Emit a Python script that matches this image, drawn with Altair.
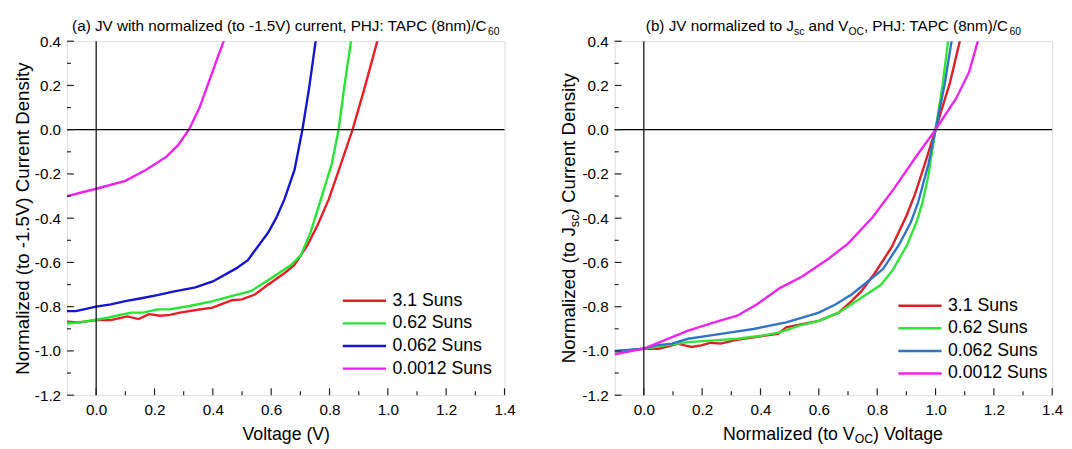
import altair as alt
import pandas as pd

FONT = "Liberation Sans"
PW, PH = 445, 360
XDOM = [-0.1, 1.4]
YDOM = [-1.2, 0.4]

SERIES = ["3.1 Suns", "0.62 Suns", "0.062 Suns", "0.0012 Suns"]
COLORS_A = ["#ec1c24", "#22e632", "#1414d2", "#f01ef0"]
COLORS_B = ["#dd1f26", "#2ee635", "#2f74c8", "#f022f0"]

X_MAJOR = [0.0, 0.2, 0.4, 0.6, 0.8, 1.0, 1.2, 1.4]
X_MINOR = [0.1, 0.3, 0.5, 0.7, 0.9, 1.1, 1.3]
Y_MAJOR = [-1.2, -1.0, -0.8, -0.6, -0.4, -0.2, 0.0, 0.2, 0.4]
Y_MINOR = [-1.1, -0.9, -0.7, -0.5, -0.3, -0.1, 0.1, 0.3]

# ---- panel (a): JV normalized to -1.5 V current ----
A_RED_X = [-0.10, -0.06, 0.0, 0.05, 0.107, 0.146, 0.18, 0.219, 0.253, 0.287, 0.342, 0.399,
           0.432, 0.466, 0.50, 0.544, 0.589, 0.645, 0.679, 0.724, 0.758, 0.797, 0.836,
           0.879, 0.92, 0.963, 0.968]
A_RED_Y = [-0.868, -0.871, -0.861, -0.861, -0.844, -0.856, -0.834, -0.841, -0.837, -0.827,
           -0.815, -0.804, -0.787, -0.771, -0.767, -0.745, -0.701, -0.649, -0.612, -0.523,
           -0.434, -0.316, -0.167, 0.0, 0.188, 0.396, 0.42]
A_GREEN_X = [-0.10, -0.05, 0.0, 0.04, 0.07, 0.12, 0.16, 0.21, 0.25, 0.32, 0.40, 0.47, 0.53,
             0.60, 0.668, 0.702, 0.735, 0.77, 0.808, 0.831, 0.85, 0.873, 0.876]
A_GREEN_Y = [-0.876, -0.87, -0.859, -0.85, -0.841, -0.827, -0.827, -0.812, -0.812, -0.797,
             -0.775, -0.75, -0.73, -0.671, -0.612, -0.567, -0.464, -0.316, -0.153, 0.0,
             0.188, 0.396, 0.42]
A_BLUE_X = [-0.10, -0.07, 0.0, 0.05, 0.10, 0.15, 0.21, 0.26, 0.34, 0.40, 0.48, 0.52, 0.59,
            0.617, 0.645, 0.68, 0.707, 0.73, 0.752, 0.755]
A_BLUE_Y = [-0.82, -0.82, -0.80, -0.79, -0.775, -0.763, -0.748, -0.733, -0.713, -0.686,
            -0.627, -0.59, -0.464, -0.40, -0.316, -0.182, 0.0, 0.188, 0.396, 0.42]
A_MAG_X = [-0.10, 0.0, 0.10, 0.17, 0.24, 0.28, 0.318, 0.354, 0.387, 0.415, 0.436, 0.44]
A_MAG_Y = [-0.30, -0.267, -0.231, -0.182, -0.123, -0.071, 0.0, 0.099, 0.218, 0.321, 0.396, 0.42]

# ---- panel (b): normalized to Jsc and Voc ----
B_RED_X = [-0.10, 0.0, 0.051, 0.084, 0.118, 0.14, 0.163, 0.197, 0.23, 0.264, 0.309, 0.342,
           0.421, 0.46, 0.488, 0.543, 0.60, 0.668, 0.712, 0.746, 0.791, 0.85, 0.90, 0.93,
           0.962, 1.0, 1.05, 1.085, 1.088]
B_RED_Y = [-1.004, -0.99, -0.99, -0.979, -0.967, -0.975, -0.982, -0.975, -0.963, -0.967,
           -0.952, -0.945, -0.93, -0.923, -0.893, -0.879, -0.864, -0.827, -0.775, -0.73,
           -0.65, -0.53, -0.39, -0.29, -0.16, 0.0, 0.215, 0.41, 0.42]
B_GREEN_X = [-0.10, 0.0, 0.073, 0.152, 0.241, 0.32, 0.41, 0.466, 0.533, 0.60, 0.668, 0.746,
             0.813, 0.853, 0.903, 0.937, 0.955, 0.975, 1.0, 1.024, 1.043, 1.045]
B_GREEN_Y = [-1.004, -0.99, -0.975, -0.96, -0.952, -0.945, -0.93, -0.916, -0.886, -0.864,
             -0.827, -0.76, -0.701, -0.635, -0.52, -0.41, -0.33, -0.21, 0.0, 0.20, 0.40, 0.42]
B_BLUE_X = [-0.10, 0.0, 0.039, 0.096, 0.152, 0.23, 0.298, 0.376, 0.432, 0.488, 0.543, 0.60,
            0.657, 0.712, 0.768, 0.82, 0.875, 0.915, 0.94, 0.975, 1.0, 1.032, 1.055, 1.057]
B_BLUE_Y = [-1.0, -0.99, -0.975, -0.967, -0.945, -0.93, -0.916, -0.901, -0.886, -0.871,
            -0.849, -0.827, -0.79, -0.745, -0.686, -0.63, -0.52, -0.42, -0.33, -0.16, 0.0,
            0.21, 0.40, 0.42]
B_MAG_X = [-0.10, 0.0, 0.152, 0.241, 0.32, 0.387, 0.466, 0.543, 0.634, 0.70, 0.785, 0.86,
           0.93, 1.0, 1.07, 1.115, 1.145, 1.148]
B_MAG_Y = [-1.015, -0.99, -0.908, -0.871, -0.841, -0.79, -0.716, -0.664, -0.582, -0.515,
           -0.395, -0.262, -0.128, 0.0, 0.14, 0.26, 0.40, 0.42]

ARIAL = {" ": 278, "(": 333, ")": 333, "-": 333, ".": 278, ",": 278, ":": 278, "/": 278,
         "a": 556, "b": 556, "c": 500, "d": 556, "e": 556, "f": 278, "g": 556, "h": 556,
         "i": 222, "j": 222, "k": 500, "l": 222, "m": 833, "n": 556, "o": 556, "p": 556,
         "q": 556, "r": 333, "s": 500, "t": 278, "u": 556, "v": 500, "w": 722, "x": 500,
         "y": 500, "z": 500, "A": 667, "B": 667, "C": 722, "D": 722, "E": 667, "F": 611,
         "G": 778, "H": 722, "I": 278, "J": 500, "K": 667, "L": 556, "M": 833, "N": 722,
         "O": 778, "P": 667, "Q": 778, "R": 722, "S": 667, "T": 611, "U": 722, "V": 667,
         "W": 944, "X": 667, "Y": 667, "Z": 611}


def tw(s, size):
    return sum(ARIAL.get(c, 556) for c in s) * size / 1000.0


def rich_text(segments, x, y, size, sub_size, sub_dy, angle=None):
    """Lay out text pieces (some as subscripts) one after the other along the text line."""
    total = sum(tw(t, sub_size if sub else size) for t, sub in segments)
    off = -total / 2.0
    layers = []
    for t, sub in segments:
        fs = sub_size if sub else size
        body = t.strip(" ")
        lead = tw(t[: len(t) - len(t.lstrip(" "))], fs)
        kw = dict(text=body, align="left", baseline="alphabetic", font=FONT, fontSize=fs,
                  dx=off + lead, dy=(sub_dy if sub else 0), color="black")
        if angle is not None:
            kw["angle"] = angle
        layers.append(alt.Chart(alt.Data(values=[{}])).mark_text(**kw).encode(
            x=alt.value(x), y=alt.value(y)))
        off += tw(t, fs)
    return layers


def frame_df(series_xy):
    rows = []
    for name, xs, ys in series_xy:
        for i, (a, b) in enumerate(zip(xs, ys)):
            rows.append({"series": name, "x": a, "y": b, "i": i})
    return pd.DataFrame(rows)


LABEL_EXPR = "replace(datum.label, '\u2212', '-')"


def panel(df, colors, lx, ly, x_title, y_title, extra):
    xs = alt.Scale(domain=XDOM, nice=False, zero=False)
    ys = alt.Scale(domain=YDOM, nice=False, zero=False)
    xkw = dict(values=X_MAJOR, format=".1f", ticks=False, domain=False, grid=False,
               labelFontSize=15.5, labelFont=FONT, labelColor="black", labelPadding=8,
               labelFlush=False, labelOverlap=False, titleFontSize=18, titleFont=FONT,
               titleFontWeight="normal", titleColor="black", titlePadding=8)
    ykw = dict(values=Y_MAJOR, format=".1f", labelExpr=LABEL_EXPR, ticks=False,
               domain=False, grid=False, labelFontSize=15.5, labelFont=FONT,
               labelColor="black", labelPadding=6.5, labelFlush=False, labelOverlap=False,
               titleFontSize=19, titleFont=FONT, titleFontWeight="normal",
               titleColor="black", titlePadding=2)
    xaxis = alt.Axis(title=x_title, **xkw)
    yaxis = alt.Axis(title=y_title, **ykw)
    lines = alt.Chart(df).mark_line(strokeWidth=2.4, clip=True).encode(
        x=alt.X("x:Q", scale=xs, axis=xaxis),
        y=alt.Y("y:Q", scale=ys, axis=yaxis),
        color=alt.Color("series:N", scale=alt.Scale(domain=SERIES, range=colors),
                        legend=alt.Legend(title=None, orient="none", legendX=lx, legendY=ly,
                                          symbolType="stroke", symbolSize=1936,
                                          symbolStrokeWidth=2.5, labelFontSize=18,
                                          labelFont=FONT, labelColor="black", clipHeight=18,
                                          rowPadding=5, labelOffset=5, padding=0,
                                          labelLimit=300)),
        order="i:Q")
    zero = pd.DataFrame({"x": [0.0], "y": [0.0]})
    vline = alt.Chart(zero).mark_rule(color="black", strokeWidth=1.2).encode(
        x=alt.X("x:Q", scale=xs, axis=xaxis))
    hline = alt.Chart(zero).mark_rule(color="black", strokeWidth=1.2).encode(
        y=alt.Y("y:Q", scale=ys, axis=yaxis))
    tick_color = "#222222"
    xmaj = alt.Chart(pd.DataFrame({"x": X_MAJOR})).mark_rule(color=tick_color, strokeWidth=1.2).encode(
        x=alt.X("x:Q", scale=xs, axis=xaxis), y=alt.value(PH), y2=alt.value(PH - 7))
    xmin = alt.Chart(pd.DataFrame({"x": X_MINOR})).mark_rule(color=tick_color, strokeWidth=1.2).encode(
        x=alt.X("x:Q", scale=xs, axis=xaxis), y=alt.value(PH), y2=alt.value(PH - 4))
    ymaj = alt.Chart(pd.DataFrame({"y": Y_MAJOR})).mark_rule(color=tick_color, strokeWidth=1.2).encode(
        y=alt.Y("y:Q", scale=ys, axis=yaxis), x=alt.value(0), x2=alt.value(7))
    ymin = alt.Chart(pd.DataFrame({"y": Y_MINOR})).mark_rule(color=tick_color, strokeWidth=1.2).encode(
        y=alt.Y("y:Q", scale=ys, axis=yaxis), x=alt.value(0), x2=alt.value(4))
    return alt.layer(lines, vline, hline, xmaj, xmin, ymaj, ymin, *extra).properties(
        width=PW, height=PH)


df_a = frame_df([(SERIES[0], A_RED_X, A_RED_Y), (SERIES[1], A_GREEN_X, A_GREEN_Y),
                 (SERIES[2], A_BLUE_X, A_BLUE_Y), (SERIES[3], A_MAG_X, A_MAG_Y)])
df_b = frame_df([(SERIES[0], B_RED_X, B_RED_Y), (SERIES[1], B_GREEN_X, B_GREEN_Y),
                 (SERIES[2], B_BLUE_X, B_BLUE_Y), (SERIES[3], B_MAG_X, B_MAG_Y)])

title_a = rich_text([("(a) JV with normalized (to -1.5V) current, PHJ: TAPC (8nm)/C", False),
                     ("60", True)], PW / 2, -10, 15.5, 10.5, 3.5)
title_b = rich_text([("(b) JV normalized to J", False), ("sc", True), (" and V", False),
                     ("OC", True), (", PHJ: TAPC (8nm)/C", False), ("60", True)],
                    PW / 2, -10, 15.5, 10.5, 3.5)
xtitle_b = rich_text([("Normalized (to V", False), ("OC", True), (") Voltage", False)],
                     PW / 2, PH + 46, 18, 12.5, 3)
ytitle_b = rich_text([("Normalized (to J", False), ("sc", True), (") Current Density", False)],
                     -40, PH / 2, 19, 13, 4, angle=270)

left = panel(df_a, COLORS_A, 279, 255, "Voltage (V)",
             "Normalized (to -1.5V) Current Density", title_a)
right = panel(df_b, COLORS_B, 287, 260, None, None, title_b + xtitle_b + ytitle_b)

chart = alt.hconcat(left, right, spacing=44).resolve_scale(
    color="independent", x="independent", y="independent"
).resolve_legend(color="independent").properties(
    padding={"left": 5, "top": 7, "right": 0, "bottom": 0},
    background="white"
).configure_view(stroke="#1a1a1a", strokeWidth=1.3).configure(font=FONT)

chart.save("out.html", embed_options={"renderer": "svg", "actions": False})
